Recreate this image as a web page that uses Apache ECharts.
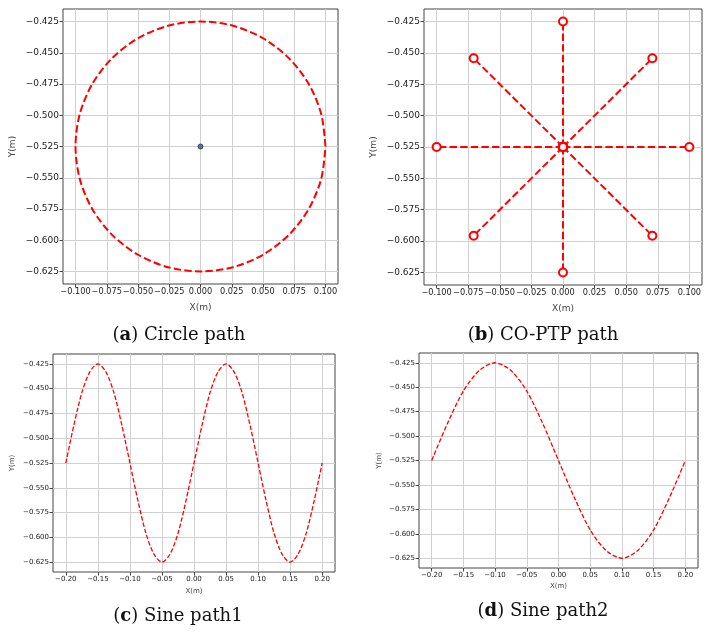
<!DOCTYPE html>
<html>
<head>
<meta charset="utf-8">
<script src="https://cdn.jsdelivr.net/npm/echarts@6/dist/echarts.min.js"></script>
<style>
html, body { margin: 0; padding: 0; background: #fff; }
#main { width: 709px; height: 634px; }
</style>
</head>
<body>
<div id="main"></div>
<script>
// tick labels
var ticksXab = [-0.1, -0.075, -0.05, -0.025, 0, 0.025, 0.05, 0.075, 0.1];
var ticksXcd = [-0.2, -0.15, -0.1, -0.05, 0, 0.05, 0.1, 0.15, 0.2];
var ticksY = [-0.625, -0.6, -0.575, -0.55, -0.525, -0.5, -0.475, -0.45, -0.425];

// (a) circle path, read every 15 degrees
var circleX = [0.1, 0.0966, 0.0866, 0.0707, 0.05, 0.0259, 0, -0.0259, -0.05, -0.0707, -0.0866, -0.0966,
  -0.1, -0.0966, -0.0866, -0.0707, -0.05, -0.0259, 0, 0.0259, 0.05, 0.0707, 0.0866, 0.0966, 0.1];
var circleY = [-0.525, -0.4991, -0.475, -0.4543, -0.4384, -0.4284, -0.425, -0.4284, -0.4384, -0.4543, -0.475, -0.4991,
  -0.525, -0.5509, -0.575, -0.5957, -0.6116, -0.6216, -0.625, -0.6216, -0.6116, -0.5957, -0.575, -0.5509, -0.525];
var centerX = [0];
var centerY = [-0.525];

// (b) CO-PTP path: centre point and the eight target points
var ptpCenter = [0, -0.525];
var ptpX = [0.1, 0.0707, 0, -0.0707, -0.1, -0.0707, 0, 0.0707];
var ptpY = [-0.525, -0.4543, -0.425, -0.4543, -0.525, -0.5957, -0.625, -0.5957];

// (c) sine path1
var sine1X = [-0.2, -0.1875, -0.175, -0.1625, -0.15, -0.1375, -0.125, -0.1125, -0.1, -0.0875, -0.075, -0.0625, -0.05,
  -0.0375, -0.025, -0.0125, 0, 0.0125, 0.025, 0.0375, 0.05, 0.0625, 0.075, 0.0875, 0.1, 0.1125, 0.125, 0.1375,
  0.15, 0.1625, 0.175, 0.1875, 0.2];
var sine1Y = [-0.525, -0.487, -0.454, -0.433, -0.425, -0.433, -0.454, -0.487, -0.525, -0.563, -0.596, -0.617, -0.625,
  -0.617, -0.596, -0.563, -0.525, -0.487, -0.454, -0.433, -0.425, -0.433, -0.454, -0.487, -0.525, -0.563, -0.596, -0.617,
  -0.625, -0.617, -0.596, -0.563, -0.525];

// (d) sine path2
var sine2X = [-0.2, -0.175, -0.15, -0.125, -0.1, -0.075, -0.05, -0.025, 0, 0.025, 0.05, 0.075, 0.1, 0.125, 0.15, 0.175, 0.2];
var sine2Y = [-0.525, -0.487, -0.454, -0.433, -0.425, -0.433, -0.454, -0.487, -0.525, -0.563, -0.596, -0.617, -0.625,
  -0.617, -0.596, -0.563, -0.525];

var capLetters = ['a', 'b', 'c', 'd'];
var capTexts = [' Circle path', ' CO-PTP path', ' Sine path1', ' Sine path2'];

function pairs(xs, ys) {
  var out = [];
  for (var i = 0; i < xs.length; i++) out.push([xs[i], ys[i]]);
  return out;
}

function fmt(v, dec) {
  return v.toFixed(dec).replace('-', '\u2212');
}

var gridBox = [
  {left: 63, top: 9, width: 275, height: 275},
  {left: 424, top: 9, width: 278, height: 276},
  {left: 53, top: 354, width: 282, height: 218},
  {left: 419, top: 353, width: 279, height: 215}
];

function mkX(idx, range, ticks, dec, fs, nameFs, gap) {
  return {
    type: 'value', gridIndex: idx, min: range[0], max: range[1],
    name: 'X(m)', nameLocation: 'middle', nameGap: gap,
    nameTextStyle: {fontFamily: 'DejaVu Sans', fontSize: nameFs, color: '#444'},
    axisLine: {show: false, onZero: false},
    axisTick: {show: true, customValues: ticks, length: 3.5, lineStyle: {color: '#444'}},
    axisLabel: {customValues: ticks, formatter: function (v) { return fmt(v, dec); },
      showMinLabel: true, showMaxLabel: true, hideOverlap: false,
      fontFamily: 'DejaVu Sans', fontSize: fs, color: '#222', margin: 4},
    splitLine: {show: true, lineStyle: {color: '#d0d0d0', width: 1}}
  };
}

function mkY(idx, ticks, fs, gap) {
  return {
    type: 'value', gridIndex: idx, min: -0.635, max: -0.415,
    name: 'Y(m)', nameLocation: 'middle', nameGap: gap, nameRotate: 90,
    nameTextStyle: {fontFamily: 'DejaVu Sans', fontSize: fs, color: '#444'},
    axisLine: {show: false, onZero: false},
    axisTick: {show: true, customValues: ticks, length: 3.5, lineStyle: {color: '#444'}},
    axisLabel: {customValues: ticks, formatter: function (v) { return fmt(v, 3); },
      showMinLabel: true, showMaxLabel: true, hideOverlap: false,
      fontFamily: 'DejaVu Sans', fontSize: fs, color: '#222', margin: 4},
    splitLine: {show: true, lineStyle: {color: '#d0d0d0', width: 1}}
  };
}

var capPos = [[174, 321], [538, 321], [173, 602], [538, 597]];

var spokes = ptpX.map(function (x, i) {
  return {
    type: 'line', xAxisIndex: 1, yAxisIndex: 1,
    data: [ptpCenter, [x, ptpY[i]]],
    showSymbol: true, symbol: 'emptyCircle', symbolSize: 8,
    itemStyle: {color: '#ff0000', borderColor: '#ff4040', borderWidth: 1.2},
    lineStyle: {color: '#ff0000', width: 2, type: [7.4, 3.2]}
  };
});

var option = {
  animation: false,
  backgroundColor: '#fff',
  title: capLetters.map(function (l, i) {
    return {
      text: '{p|(}{b|' + l + '}{p|)' + capTexts[i] + '}',
      left: capPos[i][0], top: capPos[i][1], textAlign: 'center',
      textStyle: {
        fontWeight: 'normal',
        rich: {
          p: {fontFamily: 'DejaVu Serif', fontSize: 18, fontWeight: 'normal', color: '#111'},
          b: {fontFamily: 'DejaVu Serif', fontSize: 18, fontWeight: 'bold', color: '#111'}
        }
      }
    };
  }),
  grid: gridBox.map(function (g) {
    return {left: g.left, top: g.top, width: g.width, height: g.height,
      show: true, borderColor: '#444', borderWidth: 1, containLabel: false, outerBoundsMode: 'none'};
  }),
  xAxis: [
    mkX(0, [-0.11, 0.11], ticksXab, 3, 8.2, 9, 19),
    mkX(1, [-0.11, 0.11], ticksXab, 3, 8.2, 9, 19),
    mkX(2, [-0.22, 0.22], ticksXcd, 2, 7, 7, 16),
    mkX(3, [-0.22, 0.22], ticksXcd, 2, 7, 7, 15)
  ],
  yAxis: [
    mkY(0, ticksY, 9, 46),
    mkY(1, ticksY, 9, 46),
    mkY(2, ticksY, 7, 37),
    mkY(3, ticksY, 7, 36)
  ],
  series: [
    {
      type: 'line', xAxisIndex: 0, yAxisIndex: 0, data: pairs(circleX, circleY),
      showSymbol: false, smooth: 0.3,
      lineStyle: {color: '#ff0000', width: 2, type: [7.4, 3.2]}
    },
    {
      type: 'scatter', xAxisIndex: 0, yAxisIndex: 0, data: pairs(centerX, centerY),
      symbol: 'circle', symbolSize: 5,
      itemStyle: {color: '#2c5d8a', borderColor: '#1a3550', borderWidth: 1}
    },
    {
      type: 'line', xAxisIndex: 2, yAxisIndex: 2, data: pairs(sine1X, sine1Y),
      showSymbol: false, smooth: 0.3,
      lineStyle: {color: '#ff0000', width: 1.3, type: [4.5, 2]}
    },
    {
      type: 'line', xAxisIndex: 3, yAxisIndex: 3, data: pairs(sine2X, sine2Y),
      showSymbol: false, smooth: 0.3,
      lineStyle: {color: '#ff0000', width: 1.3, type: [4.5, 2]}
    }
  ].concat(spokes)
};

var chart = echarts.init(document.getElementById('main'));
chart.setOption(option);
</script>
</body>
</html>
